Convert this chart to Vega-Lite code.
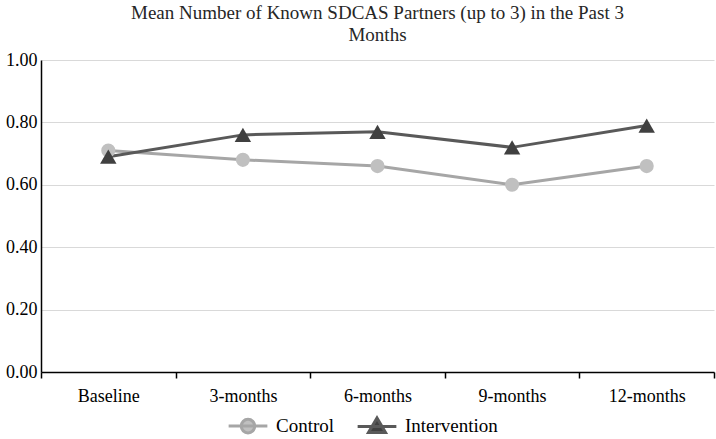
{
  "$schema": "https://vega.github.io/schema/vega-lite/v6.json",
  "width": 673,
  "height": 312,
  "autosize": {"type": "none"},
  "padding": {"left": 41, "top": 60, "right": 2, "bottom": 67},
  "background": "white",
  "config": {
    "view": {"stroke": null},
    "font": "Liberation Serif"
  },
  "title": {
    "text": ["Mean Number of Known SDCAS Partners (up to 3) in the Past 3", "Months"],
    "font": "Liberation Serif",
    "fontSize": 19,
    "fontWeight": "normal",
    "color": "#262626",
    "anchor": "middle",
    "offset": 6,
    "lineHeight": 22
  },
  "data": {
    "values": [
      {"time": "Baseline", "group": "Control", "value": 0.71},
      {"time": "3-months", "group": "Control", "value": 0.68},
      {"time": "6-months", "group": "Control", "value": 0.66},
      {"time": "9-months", "group": "Control", "value": 0.60},
      {"time": "12-months", "group": "Control", "value": 0.66},
      {"time": "Baseline", "group": "Intervention", "value": 0.69},
      {"time": "3-months", "group": "Intervention", "value": 0.76},
      {"time": "6-months", "group": "Intervention", "value": 0.77},
      {"time": "9-months", "group": "Intervention", "value": 0.72},
      {"time": "12-months", "group": "Intervention", "value": 0.79}
    ]
  },
  "encoding": {
    "x": {
      "field": "time",
      "type": "nominal",
      "sort": ["Baseline", "3-months", "6-months", "9-months", "12-months"],
      "scale": {"paddingInner": 0, "paddingOuter": 0},
      "axis": {
        "title": null,
        "labelAngle": 0,
        "labelFont": "Liberation Serif",
        "labelFontSize": 18,
        "labelColor": "#000000",
        "labelPadding": 9,
        "domainColor": "#000000",
        "domainWidth": 1.5,
        "tickColor": "#000000",
        "tickWidth": 1.5,
        "tickSize": 6,
        "tickBand": "extent",
        "grid": false
      }
    },
    "y": {
      "field": "value",
      "type": "quantitative",
      "scale": {"domain": [0, 1]},
      "axis": {
        "title": null,
        "values": [0, 0.2, 0.4, 0.6, 0.8, 1.0],
        "format": ".2f",
        "labelFont": "Liberation Serif",
        "labelFontSize": 18,
        "labelColor": "#000000",
        "labelPadding": 4,
        "ticks": false,
        "domainColor": "#000000",
        "domainWidth": 1.5,
        "grid": true,
        "gridColor": "#d9d9d9",
        "gridWidth": 1.2
      }
    }
  },
  "layer": [
    {
      "mark": {"type": "line", "strokeWidth": 3},
      "encoding": {
        "color": {
          "field": "group",
          "type": "nominal",
          "scale": {"domain": ["Control", "Intervention"], "range": ["#a6a6a6", "#595959"]},
          "legend": {
            "orient": "none",
            "legendX": 186,
            "legendY": 345,
            "title": null,
            "direction": "horizontal",
            "labelFont": "Liberation Serif",
            "labelFontSize": 19,
            "labelColor": "#000000",
            "symbolSize": 1500,
            "symbolStrokeWidth": 3,
            "columnPadding": 16,
            "labelOffset": 7,
            "encode": {
              "symbols": {
                "update": {
                  "shape": {"signal": "datum.value === 'Control' ? 'M-1,0H1M-0.35,0A0.35,0.35 0 1,0 0.35,0A0.35,0.35 0 1,0 -0.35,0Z' : 'M-1,0H1M0,-0.44L0.44,0.32L-0.44,0.32Z'"},
                  "fill": {"signal": "datum.value === 'Control' ? '#c0c0c0' : '#404040'"},
                  "fillOpacity": {"value": 1},
                  "opacity": {"value": 1}
                }
              }
            }
          }
        }
      }
    },
    {
      "transform": [{"filter": "datum.group === 'Control'"}],
      "mark": {"type": "point", "shape": "circle", "filled": true, "fill": "#c0c0c0", "opacity": 1, "size": 200}
    },
    {
      "transform": [{"filter": "datum.group === 'Intervention'"}],
      "mark": {"type": "point", "shape": "triangle-up", "filled": true, "fill": "#404040", "opacity": 1, "size": 270}
    }
  ]
}
